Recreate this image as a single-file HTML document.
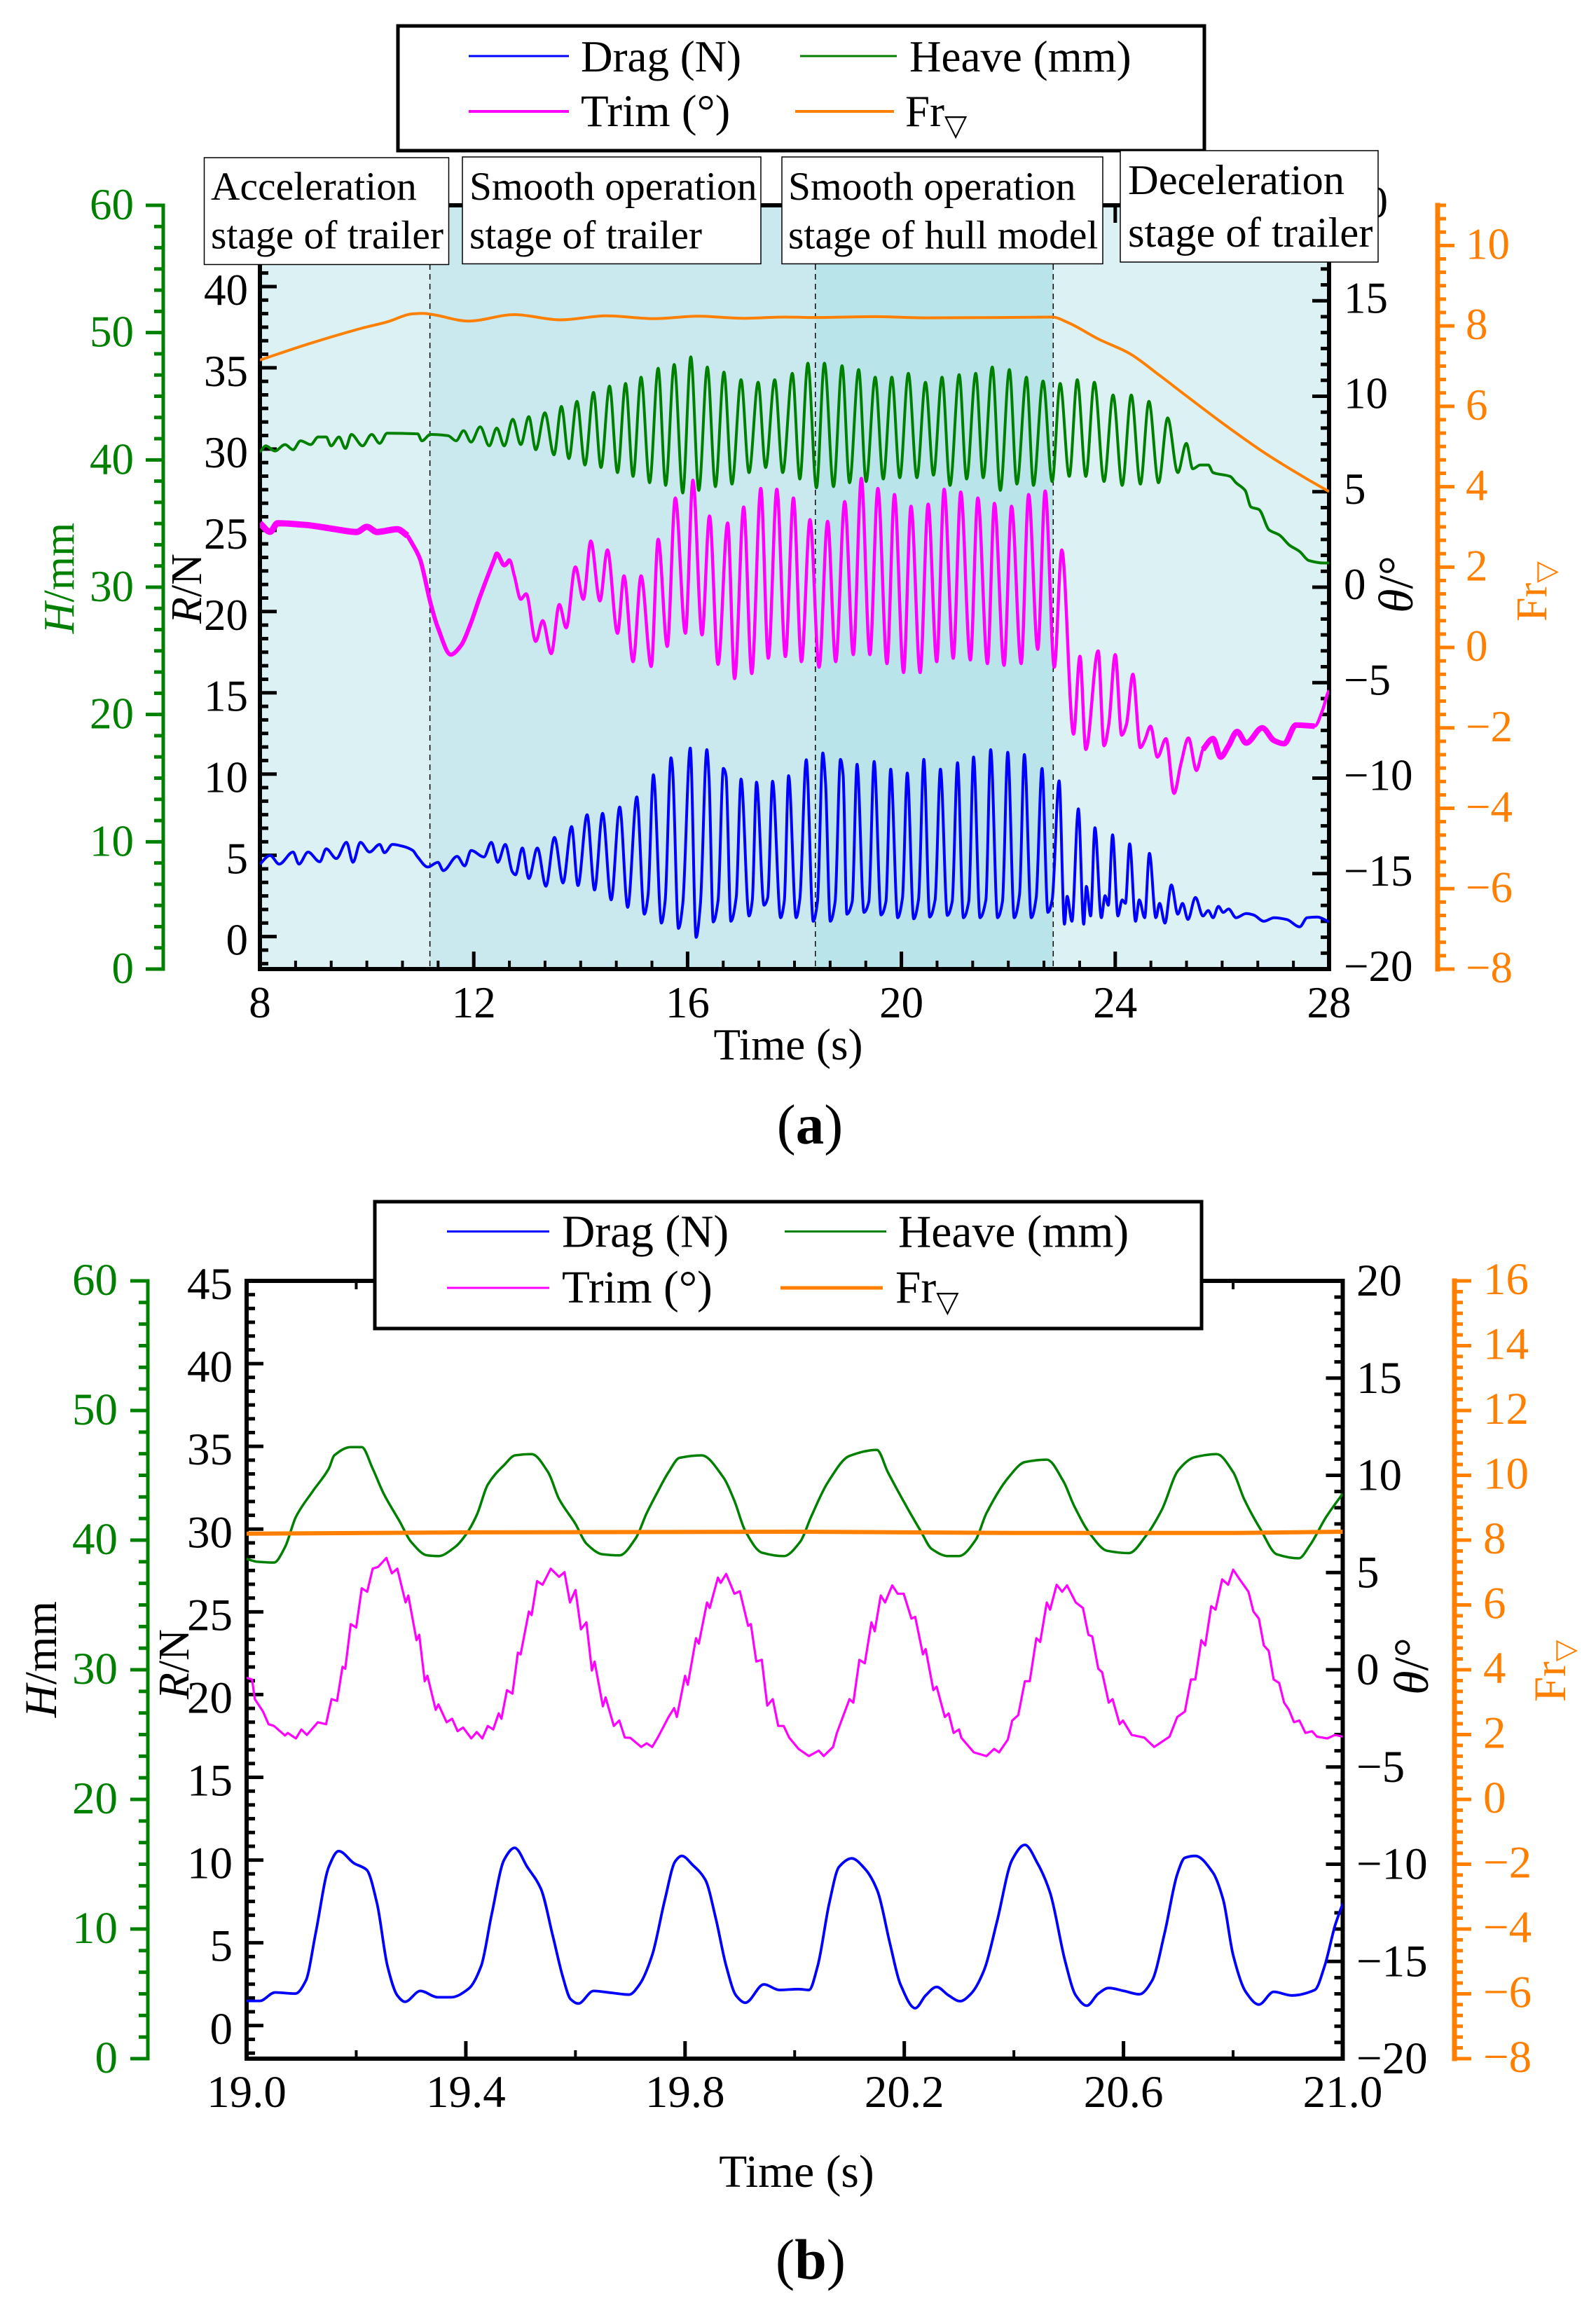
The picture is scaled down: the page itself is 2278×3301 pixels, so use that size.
<!DOCTYPE html>
<html lang="en">
<head>
<meta charset="utf-8">
<title>Drag, heave, trim and Froude number time histories</title>
<style>
html,body{margin:0;padding:0;background:#fff}
svg{display:block;font-family:"Liberation Serif","DejaVu Serif",serif}
</style>
</head>
<body>
<svg id="figure" xmlns="http://www.w3.org/2000/svg" width="2278" height="3301" viewBox="0 0 2278 3301">
  <rect x="0" y="0" width="2278" height="3301" fill="#fff"/>
  <g id="panel-a"></g>
  <g id="panel-b"></g>

  <g>
    <rect x="568" y="37" width="1151" height="178" fill="#fff" stroke="#000" stroke-width="5"/>
    <line x1="669" y1="80" x2="812" y2="80" stroke="#0000ff" stroke-width="3"/>
    <text x="829" y="102" font-size="63">Drag (N)</text>
    <line x1="1142" y1="80" x2="1280" y2="80" stroke="#008000" stroke-width="3"/>
    <text x="1298" y="102" font-size="63">Heave (mm)</text>
    <line x1="669" y1="159" x2="812" y2="159" stroke="#ff00ff" stroke-width="4"/>
    <text x="829" y="180" font-size="65">Trim (°)</text>
    <line x1="1135" y1="159" x2="1276" y2="159" stroke="#ff8000" stroke-width="4"/>
    <text x="1292" y="180" font-size="63">Fr<tspan font-family="'DejaVu Sans',sans-serif" font-size="42" dy="13">▽</tspan></text>
  </g>

  <g>
    <g>
      <rect x="291.5" y="225" width="349" height="152.5" fill="#fff" stroke="#000" stroke-width="1.5"/>
      <text x="301" y="285" font-size="57.5">Acceleration</text>
      <text x="301" y="354.5" font-size="57.5">stage of trailer</text>
    </g>
    <g>
      <rect x="660" y="224" width="426" height="152.5" fill="#fff" stroke="#000" stroke-width="1.5"/>
      <text x="670" y="285" font-size="57.5">Smooth operation</text>
      <text x="670" y="354.5" font-size="57.5">stage of trailer</text>
    </g>
    <g>
      <rect x="1116" y="224" width="458" height="152.5" fill="#fff" stroke="#000" stroke-width="1.5"/>
      <text x="1125" y="285" font-size="57.5">Smooth operation</text>
      <text x="1125" y="354.5" font-size="57.5">stage of hull model</text>
    </g>
    <g>
      <rect x="1599" y="215" width="368" height="159" fill="#fff" stroke="#000" stroke-width="1.5"/>
      <text x="1610" y="277" font-size="60.5">Deceleration</text>
      <text x="1610" y="352" font-size="60.5">stage of trailer</text>
    </g>
  </g>

  <g>
    <rect x="535" y="1715" width="1180" height="181" fill="#fff" stroke="#000" stroke-width="5"/>
    <line x1="638" y1="1757.5" x2="784" y2="1757.5" stroke="#0000ff" stroke-width="3"/>
    <text x="802" y="1779.5" font-size="65.5">Drag (N)</text>
    <line x1="1120" y1="1757.5" x2="1265" y2="1757.5" stroke="#008000" stroke-width="3"/>
    <text x="1282" y="1779.5" font-size="65.5">Heave (mm)</text>
    <line x1="638" y1="1838" x2="784" y2="1838" stroke="#ff00ff" stroke-width="3"/>
    <text x="802" y="1859" font-size="65.5">Trim (°)</text>
    <line x1="1114" y1="1838" x2="1260" y2="1838" stroke="#ff8000" stroke-width="5"/>
    <text x="1278" y="1859" font-size="65.5">Fr<tspan font-family="'DejaVu Sans',sans-serif" font-size="42" dy="13">▽</tspan></text>
  </g>

  <g>
    <text x="1125" y="1512" font-size="63" text-anchor="middle">Time (s)</text>
    <text transform="translate(105 825) rotate(-90)" font-size="62" text-anchor="middle" fill="#008000"><tspan font-style="italic">H</tspan>/mm</text>
    <text transform="translate(287 840) rotate(-90)" font-size="62" text-anchor="middle"><tspan font-style="italic">R</tspan>/N</text>
    <text transform="translate(2016 834) rotate(-90)" font-size="70" text-anchor="middle"><tspan font-style="italic">θ</tspan>/°</text>
    <text transform="translate(2207 887) rotate(-90)" font-size="62" fill="#ff8000">Fr<tspan font-family="'DejaVu Sans',sans-serif" font-size="40" dy="13">▽</tspan></text>
    <text x="1156" y="1632" font-size="81" text-anchor="middle">(<tspan font-weight="bold">a</tspan>)</text>

    <text x="1137" y="3121" font-size="65.5" text-anchor="middle">Time (s)</text>
    <text transform="translate(80 2368) rotate(-90)" font-size="65" text-anchor="middle"><tspan font-style="italic">H</tspan>/mm</text>
    <text transform="translate(269 2375) rotate(-90)" font-size="62" text-anchor="middle"><tspan font-style="italic">R</tspan>/N</text>
    <text transform="translate(2038 2378) rotate(-90)" font-size="70" text-anchor="middle"><tspan font-style="italic">θ</tspan>/°</text>
    <text transform="translate(2234 2429) rotate(-90)" font-size="65" fill="#ff8000">Fr<tspan font-family="'DejaVu Sans',sans-serif" font-size="40" dy="13">▽</tspan></text>
    <text x="1157" y="3252" font-size="82" text-anchor="middle">(<tspan font-weight="bold">b</tspan>)</text>
  </g>
</svg>

<script>
/* ---------- shared tick labels ---------- */
const dragTicks = [0, 5, 10, 15, 20, 25, 30, 35, 40, 45];
const heaveTicks = [0, 10, 20, 30, 40, 50, 60];
const trimTicks = [-20, -15, -10, -5, 0, 5, 10, 15, 20];
const frTicksA = [-8, -6, -4, -2, 0, 2, 4, 6, 8, 10];
const frTicksB = [-8, -6, -4, -2, 0, 2, 4, 6, 8, 10, 12, 14, 16];
const timeTicksA = [8, 12, 16, 20, 24, 28];
const timeTicksB = ['19.0', '19.4', '19.8', '20.2', '20.6', '21.0'];
const stageBoundaries = [11.18, 18.39, 22.84];

/* ---------- panel (a) series: time (s) and value ---------- */
const aHeaveT = [8,8.11,8.28,8.47,8.62,8.76,8.95,9.09,9.24,9.33,9.48,9.6,9.71,9.92,10.09,10.24,10.38,10.95,11.03,11.19,11.52,11.67,11.81,11.95,12.12,12.29,12.43,12.57,12.73,12.88,13.03,13.16,13.33,13.5,13.64,13.78,13.93,14.08,14.24,14.38,14.54,14.69,14.84,14.98,15.13,15.29,15.45,15.59,15.75,15.91,16.06,16.21,16.37,16.52,16.68,16.83,17,17.15,17.32,17.46,17.63,17.78,17.96,18.1,18.25,18.41,18.56,18.73,18.89,19.03,19.2,19.34,19.51,19.66,19.82,19.97,20.13,20.29,20.45,20.6,20.76,20.91,21.08,21.22,21.39,21.53,21.7,21.85,22.02,22.16,22.34,22.47,22.65,22.82,22.97,23.14,23.29,23.45,23.61,23.79,23.96,24.13,24.3,24.47,24.63,24.81,24.98,25.17,25.33,25.45,25.59,25.74,25.83,26.15,26.26,26.43,26.54,26.69,26.88,27.07,27.26,27.45,27.62,27.9,28];
const aHeaveV = [40.6,41.1,40.7,41.2,40.8,41.5,41.2,41.8,41.8,41.1,41.8,40.9,42,41.1,42,41.3,42.1,42.05,41.5,42,41.9,41.5,42.3,41.4,42.6,41.1,42.5,41.1,43.2,41.2,43.4,40.8,43.7,40.4,44.2,40.1,44.6,39.6,45.3,39.4,45.8,39,46,38.7,46.5,38.2,47.2,38,47.5,37.4,48.1,37.6,47.3,37.9,46.9,38.1,46.3,39,46.1,39.4,46.3,39,46.8,38.5,47.6,37.8,47.6,37.9,47.4,38.2,47.1,38.3,46.5,38.5,46.5,38.6,46.8,38.6,46.1,38.8,46.5,38,46.7,38.5,46.8,38.6,47.3,37.6,47.1,38.1,46.5,38,46.2,38.3,46,38.7,46.3,38.7,46.1,38.3,45.1,38,45.1,38.1,44.6,38.2,43.3,39,41.3,39.3,39.6,39.6,39,38.7,38.2,37.6,36.3,36.1,34.5,34.1,33.3,32.8,32.1,31.9,31.9];

const aDragT = [8,8.19,8.36,8.62,8.73,8.9,9.12,9.24,9.43,9.62,9.74,9.88,10.05,10.24,10.33,10.48,10.67,10.86,10.95,11.14,11.33,11.43,11.69,11.83,11.95,12.19,12.33,12.45,12.59,12.72,12.78,12.91,13.03,13.19,13.35,13.51,13.67,13.83,13.95,14.12,14.26,14.41,14.57,14.73,14.88,15.05,15.19,15.26,15.36,15.51,15.58,15.69,15.72,15.83,15.91,16.05,16.16,16.24,16.36,16.4,16.48,16.57,16.67,16.72,16.81,16.91,17,17.15,17.21,17.29,17.43,17.5,17.59,17.74,17.81,17.89,18.03,18.1,18.22,18.35,18.43,18.53,18.58,18.67,18.76,18.86,18.91,18.98,19.08,19.17,19.3,19.39,19.49,19.62,19.71,19.8,19.93,20.02,20.11,20.23,20.32,20.42,20.53,20.63,20.73,20.86,20.95,21.05,21.16,21.26,21.35,21.47,21.58,21.67,21.8,21.89,21.99,22.11,22.21,22.3,22.43,22.52,22.63,22.74,22.82,22.95,23.05,23.1,23.19,23.31,23.41,23.46,23.54,23.62,23.74,23.81,23.87,23.95,24.05,24.13,24.19,24.27,24.38,24.45,24.55,24.64,24.76,24.83,24.93,25.05,25.17,25.26,25.36,25.5,25.64,25.74,25.83,25.93,26.02,26.12,26.26,26.45,26.59,26.78,26.97,27.21,27.45,27.59,27.78,28];
const aDragV = [4.46,5,4.46,5.2,4.46,5.2,4.6,5.4,4.8,5.8,4.57,5.8,5.2,5.67,5.16,5.67,5.56,5.3,4.9,4.28,4.57,4.06,4.94,4.35,5.3,4.9,5.8,4.57,5.67,4,3.8,5.45,3.57,5.45,3.1,6.1,3.3,6.77,3.14,7.5,2.87,7.58,2.26,7.97,1.8,8.6,1.38,2.5,9.96,0.83,2.2,11,10.3,0.5,2,11.6,-0.05,2,11.5,9.9,0.9,2.2,10.35,9.9,0.94,2.4,9.7,1.27,2.2,9.5,1.93,2.4,9.56,1.16,2.2,9.9,1.16,2.3,10.88,0.94,2.15,11.3,9.5,0.94,2.15,10.9,9.95,1.38,2.15,10.6,1.49,2.15,10.77,1.33,2.15,10.3,1.16,2.37,10.06,1.09,2.26,10.9,1.2,2.26,10.3,1.3,2.15,10.7,1.16,2.15,11.05,1.16,2.26,11.5,1.16,2.15,11.34,1.16,2.59,11.2,1.16,2.37,10.35,1.49,2.26,9.58,0.76,2.48,0.94,7.86,0.76,3.09,1.27,6.7,1.16,2.52,1.93,6.26,1.27,2.26,2.04,5.71,0.94,2.26,1.16,5.12,1.16,2.04,0.83,3.18,1.38,2.04,1.05,2.41,1.27,1.6,1.16,1.86,1.49,1.7,1.16,1.42,1.33,0.94,1.16,1.05,0.6,1.16,1.2,0.9];

const aTrimT = [8,8.19,8.33,8.86,9.33,9.81,10,10.19,10.57,10.76,10.95,11,11.19,11.33,11.57,11.76,11.95,12.1,12.38,12.43,12.57,12.67,12.76,12.88,12.98,13.16,13.29,13.45,13.6,13.73,13.9,14.05,14.19,14.36,14.5,14.69,14.81,14.98,15.13,15.32,15.45,15.62,15.77,15.96,16.1,16.27,16.41,16.57,16.75,16.88,17.05,17.2,17.37,17.51,17.67,17.83,17.98,18.13,18.29,18.46,18.62,18.77,18.94,19.1,19.25,19.41,19.56,19.73,19.87,20.04,20.18,20.35,20.5,20.66,20.8,20.97,21.11,21.29,21.43,21.61,21.74,21.92,22.06,22.24,22.38,22.55,22.69,22.86,23,23.22,23.34,23.45,23.68,23.79,23.88,24,24.12,24.21,24.33,24.47,24.55,24.66,24.79,24.95,25.1,25.23,25.37,25.52,25.64,25.83,25.97,26.12,26.28,26.45,26.75,26.97,27.16,27.38,27.73,27.88,27.97,28];
const aTrimV = [3.35,2.9,3.35,3.26,3.07,2.89,3.16,2.89,3.04,2.7,1.76,1.43,-0.82,-2.13,-3.53,-3.06,-1.85,-0.63,1.43,1.76,1.15,1.43,0.59,-0.63,-0.35,-2.84,-1.75,-3.48,-0.91,-2.13,1.06,-0.63,2.42,-0.72,1.95,-2.41,0.59,-3.9,0.59,-4.15,2.51,-3.1,4.67,-2.41,5.6,-2.5,3.73,-4.04,3.36,-4.79,4.2,-4.52,5.17,-3.72,5.13,-3.63,4.67,-3.9,3.54,-4.19,3.45,-3.9,4.48,-3.53,5.7,-3.53,5.17,-4,4.85,-4.47,4.24,-4.47,4.35,-3.9,5.13,-3.72,4.98,-3.81,4.67,-4,4.39,-4.09,4.24,-4,4.85,-3.25,5.04,-4.19,1.95,-7.7,-3.62,-8.5,-3.34,-8.3,-7.18,-3.53,-7.75,-7.18,-4.56,-8.4,-8.03,-7.28,-8.9,-7.93,-10.8,-9.24,-7.9,-9.6,-8.5,-7.93,-8.9,-8.3,-7.56,-8.16,-7.37,-8.03,-8.2,-7.22,-7.28,-6.43,-5.59,-5.4];

const aFrT = [8,8.95,9.9,10.38,10.86,11.05,11.24,11.9,12.76,13.62,14.48,15.38,16.19,17.05,17.81,18.37,19.51,20.46,21.88,22.82,23.12,23.69,24.26,24.83,25.31,26.07,26.83,27.59,28];
const aFrV = [7.15,7.57,7.94,8.1,8.3,8.31,8.28,8.12,8.28,8.15,8.25,8.18,8.24,8.19,8.22,8.21,8.23,8.2,8.21,8.22,8.08,7.67,7.32,6.77,6.28,5.52,4.81,4.19,3.88];

/* ---------- panel (b) series: time (s) and value ---------- */
const bHeaveT = [19,19.02,19.05,19.07,19.09,19.12,19.15,19.16,19.19,19.21,19.23,19.25,19.28,19.3,19.33,19.35,19.38,19.4,19.42,19.44,19.47,19.49,19.52,19.55,19.57,19.6,19.62,19.65,19.68,19.71,19.73,19.75,19.77,19.79,19.83,19.87,19.89,19.91,19.94,19.98,20.01,20.03,20.06,20.1,20.15,20.17,20.2,20.23,20.25,20.28,20.3,20.33,20.35,20.39,20.42,20.46,20.49,20.51,20.54,20.57,20.61,20.64,20.67,20.7,20.73,20.77,20.8,20.82,20.85,20.88,20.92,20.94,20.97,21];
const bHeaveV = [38.55,38.33,38.27,39.46,41.8,43.73,45.52,46.54,47.18,47.18,45.52,43.59,41.39,39.87,38.82,38.77,39.46,40.42,41.94,44.28,45.8,46.54,46.63,45.25,43.18,41.25,39.73,38.9,38.82,40.15,42.08,43.73,45.25,46.35,46.54,44.83,43.04,40.7,39.04,38.77,39.87,41.8,44.42,46.5,46.96,45.25,42.9,40.7,39.32,38.77,38.77,40,42.08,44.83,46.02,46.21,44.56,42.63,40.42,39.18,39,40.28,42.35,45.39,46.4,46.63,45.25,43.18,40.83,38.9,38.6,39.6,41.8,43.59];

const bFrT = [19,19.4,20,20.4,20.8,21];
const bFrV = [8.2,8.24,8.26,8.22,8.22,8.26];

const bTrimT = [19,19.01,19.015,19.03,19.04,19.05,19.07,19.075,19.09,19.1,19.11,19.13,19.145,19.155,19.165,19.175,19.18,19.19,19.2,19.21,19.22,19.23,19.24,19.255,19.265,19.275,19.29,19.295,19.31,19.315,19.325,19.33,19.345,19.35,19.365,19.375,19.385,19.395,19.41,19.42,19.43,19.44,19.45,19.46,19.465,19.475,19.485,19.495,19.5,19.515,19.52,19.53,19.54,19.555,19.57,19.58,19.59,19.6,19.61,19.62,19.63,19.635,19.65,19.655,19.67,19.68,19.69,19.7,19.72,19.73,19.74,19.75,19.77,19.78,19.785,19.8,19.805,19.82,19.825,19.84,19.845,19.86,19.865,19.875,19.89,19.9,19.915,19.92,19.93,19.94,19.95,19.96,19.97,19.98,19.99,20.007,20.026,20.044,20.053,20.07,20.077,20.1,20.107,20.118,20.128,20.14,20.146,20.157,20.165,20.178,20.188,20.199,20.213,20.22,20.234,20.239,20.253,20.259,20.274,20.281,20.29,20.3,20.304,20.327,20.35,20.364,20.373,20.389,20.397,20.408,20.42,20.429,20.441,20.448,20.46,20.466,20.478,20.488,20.497,20.513,20.526,20.536,20.543,20.554,20.561,20.573,20.58,20.593,20.599,20.615,20.638,20.656,20.684,20.698,20.712,20.723,20.731,20.742,20.749,20.76,20.768,20.78,20.791,20.8,20.812,20.828,20.837,20.847,20.856,20.865,20.874,20.884,20.893,20.902,20.911,20.921,20.932,20.944,20.953,20.972,20.986,21];
const bTrimV = [-0.41,-0.5,-1.51,-2.15,-2.8,-2.89,-3.38,-3.25,-3.53,-3.07,-3.35,-2.7,-2.8,-1.51,-1.6,0.15,0.05,2.35,2.17,4.19,4.01,5.2,5.29,5.75,4.96,5.2,3.46,3.82,1.52,1.8,-0.59,-0.31,-2.06,-1.78,-2.7,-2.52,-3.16,-2.97,-3.53,-3.2,-3.53,-2.89,-3.07,-2.24,-2.52,-1.05,-1.23,0.88,0.79,3,2.81,4.56,4.37,5.2,4.78,5.02,3.46,4.1,2.08,2.44,-0.04,0.42,-1.88,-1.42,-2.89,-2.61,-3.49,-3.5,-3.97,-3.78,-3.97,-3.5,-2.43,-1.97,-2.43,-0.31,-0.77,1.62,1.34,3.46,3.18,4.74,4.47,4.93,3.91,4.04,2.26,2.35,0.42,0.51,-1.84,-1.51,-2.89,-2.89,-3.49,-4.07,-4.44,-4.16,-4.44,-3.97,-3.25,-1.51,-1.69,0.51,0.33,2.44,1.98,3.82,3.46,4.34,3.91,3.91,2.63,2.72,0.79,1.07,-1.05,-0.87,-2.43,-2.24,-3.25,-3.07,-3.5,-4.25,-4.44,-4.07,-4.25,-3.59,-2.61,-2.33,-0.59,-0.59,1.62,1.43,3.46,3.09,4.37,4.01,4.34,3.46,3.18,1.8,1.71,0.05,-0.13,-1.69,-1.51,-2.8,-2.61,-3.35,-3.49,-3.97,-3.44,-2.43,-2.15,-0.5,-0.5,1.52,1.25,3.27,3.09,4.65,4.37,5.15,4.65,4.01,3,2.63,1.25,0.97,-0.5,-0.68,-1.69,-2.06,-2.7,-2.61,-3.25,-3.16,-3.44,-3.53,-3.35,-3.44];

const bDragT = [19,19.024,19.052,19.089,19.108,19.126,19.15,19.168,19.196,19.219,19.238,19.257,19.275,19.289,19.317,19.349,19.373,19.405,19.428,19.447,19.47,19.489,19.512,19.537,19.559,19.577,19.591,19.605,19.633,19.665,19.698,19.717,19.74,19.763,19.782,19.794,19.814,19.837,19.856,19.875,19.893,19.91,19.944,19.972,20.007,20.026,20.042,20.063,20.081,20.104,20.128,20.151,20.174,20.193,20.22,20.239,20.259,20.281,20.302,20.322,20.346,20.369,20.397,20.42,20.443,20.466,20.494,20.513,20.533,20.554,20.573,20.601,20.629,20.652,20.675,20.698,20.712,20.731,20.763,20.782,20.8,20.823,20.847,20.874,20.907,20.949,20.967,20.986,21];
const bDragV = [1.49,1.49,2,1.93,2.71,5.59,9.59,10.54,9.81,9.41,7.37,3.6,1.82,1.44,2.09,1.71,1.71,2.22,3.6,6.7,10.03,10.74,9.59,8.26,5.37,2.93,1.6,1.33,2.09,1.98,1.87,2.49,4.26,7.59,9.92,10.25,9.7,8.81,6.48,3.6,1.82,1.38,2.49,2.15,2.2,2.15,3.6,7.37,9.59,10.1,9.48,8.14,4.93,2.49,1.05,1.82,2.33,1.82,1.47,1.93,3.38,6.26,10.03,10.92,9.81,8.03,3.82,1.82,1.2,1.93,2.27,2.09,1.89,2.71,5.59,9.14,10.14,10.25,9.25,7.59,4.26,2.04,1.27,2.04,1.82,2.15,3.6,6.04,7.37];

/* ---------- drawing helpers ---------- */
const NS = 'http://www.w3.org/2000/svg';
const BLACK = '#000';
const GREEN = '#008000';
const ORANGE = '#ff8000';

function drawLine(parent, name, x1, y1, x2, y2, color, width, dash) {
  const el = document.createElementNS(NS, 'line');
  
  
  el.setAttribute('x1', x1);
  el.setAttribute('y1', y1);
  el.setAttribute('x2', x2);
  el.setAttribute('y2', y2);
  el.setAttribute('stroke', color);
  el.setAttribute('stroke-width', width);
  if (dash) el.setAttribute('stroke-dasharray', dash);
  parent.appendChild(el);
  return el;
}

function drawLabel(parent, name, x, y, str, color, anchor, size) {
  const el = document.createElementNS(NS, 'text');
  
  
  el.setAttribute('x', x);
  el.setAttribute('y', y);
  el.setAttribute('fill', color);
  el.setAttribute('text-anchor', anchor);
  el.setAttribute('font-size', size);
  el.textContent = String(str).replace('-', '\u2212');
  parent.appendChild(el);
  return el;
}

function drawBand(parent, name, x, y, w, h, color) {
  const el = document.createElementNS(NS, 'rect');
  
  
  el.setAttribute('x', x);
  el.setAttribute('y', y);
  el.setAttribute('width', w);
  el.setAttribute('height', h);
  el.setAttribute('fill', color);
  parent.appendChild(el);
  return el;
}

/* monotone cubic path: no overshoot past the read values */
function smoothPath(pts) {
  const seg = function (a, b) { return (b[1] - a[1]) / Math.max(b[0] - a[0], 0.001); };
  const slope = function (i) {
    if (i === 0) return seg(pts[0], pts[1]);
    if (i === pts.length - 1) return seg(pts[i - 1], pts[i]);
    const s0 = seg(pts[i - 1], pts[i]);
    const s1 = seg(pts[i], pts[i + 1]);
    if (s0 * s1 <= 0) return 0;
    return 2 * s0 * s1 / (s0 + s1);
  };
  let d = 'M' + pts[0][0].toFixed(1) + ' ' + pts[0][1].toFixed(1);
  for (let i = 0; i < pts.length - 1; i++) {
    const p1 = pts[i];
    const p2 = pts[i + 1];
    const k = (p2[0] - p1[0]) / 3;
    d += 'C' + (p1[0] + k).toFixed(1) + ' ' + (p1[1] + slope(i) * k).toFixed(1) + ' ' +
         (p2[0] - k).toFixed(1) + ' ' + (p2[1] - slope(i + 1) * k).toFixed(1) + ' ' +
         p2[0].toFixed(1) + ' ' + p2[1].toFixed(1);
  }
  return d;
}

function linearPath(pts) {
  return 'M' + pts.map(function (p) { return p[0].toFixed(1) + ' ' + p[1].toFixed(1); }).join('L');
}

function drawSeries(parent, name, ts, vs, xFn, yFn, color, width, smooth, keep) {
  const pts = [];
  ts.forEach(function (t, i) {
    if (!keep || keep(t)) pts.push([xFn(t), yFn(vs[i])]);
  });
  const el = document.createElementNS(NS, 'path');
  
  
  el.setAttribute('d', smooth ? smoothPath(pts) : linearPath(pts));
  el.setAttribute('fill', 'none');
  el.setAttribute('stroke', color);
  el.setAttribute('stroke-width', width);
  el.setAttribute('stroke-linejoin', 'round');
  el.setAttribute('clip-path', parent.getAttribute('data-clip'));
  parent.appendChild(el);
  return el;
}

function linScale(d0, d1, r0, r1) {
  return function (v) { return r0 + (v - d0) / (d1 - d0) * (r1 - r0); };
}

/* a vertical value axis: line, major + minor ticks, tick labels */
function drawYAxis(g, o) {
  const y = linScale(o.min, o.max, o.bottom, o.top);
  drawLine(g, o.name + '-line', o.x, o.top - o.lw / 2, o.x, o.bottom + o.lw / 2, o.color, o.lw);
  const step = o.ticks[1] - o.ticks[0];
  const minor = step / o.sub;
  const n0 = Math.ceil((o.min - o.ticks[0]) / minor - 1e-6);
  const n1 = Math.floor((o.max - o.ticks[0]) / minor + 1e-6);
  for (let n = n0; n <= n1; n++) {
    if (((n % o.sub) + o.sub) % o.sub === 0) continue;
    const py = y(o.ticks[0] + n * minor);
    drawLine(g, o.name + '-minor-tick', o.x, py, o.x + o.dir * o.minorLen, py, o.color, 5);
  }
  o.ticks.forEach(function (v) {
    const py = y(v);
    drawLine(g, o.name + '-major-tick', o.x, py, o.x + o.dir * o.majorLen, py, o.color, 5);
    drawLabel(g, o.name + '-tick-label', o.labelX, py + o.labelDy, v, o.color, o.anchor, o.fontSize);
  });
  return y;
}

function drawPanel(o) {
  const g = document.getElementById(o.id);
  const x = linScale(o.x0, o.x1, o.left, o.right);
  const clipId = o.id + '-clip';
  const defs = document.createElementNS(NS, 'clipPath');
  defs.setAttribute('id', clipId);
  const cr = document.createElementNS(NS, 'rect');
  cr.setAttribute('x', o.left);
  cr.setAttribute('y', o.top);
  cr.setAttribute('width', o.right - o.left);
  cr.setAttribute('height', o.bottom - o.top);
  defs.appendChild(cr);
  g.appendChild(defs);
  g.setAttribute('data-clip', 'url(#' + clipId + ')');

  if (o.bands) {
    const edges = [o.x0].concat(stageBoundaries, [o.x1]);
    o.bands.forEach(function (c, i) {
      drawBand(g, 'stage-band', x(edges[i]), o.top, x(edges[i + 1]) - x(edges[i]), o.bottom - o.top, c);
    });
    stageBoundaries.forEach(function (t) {
      drawLine(g, 'stage-boundary-line', x(t), o.top, x(t), o.bottom, BLACK, 1.5, '8 6');
    });
  }

  const yR = drawYAxis(g, { name: 'drag-axis', x: o.left, top: o.top, bottom: o.bottom, min: -2, max: 45, ticks: dragTicks, sub: 6, dir: 1, majorLen: 24, minorLen: 12, color: BLACK, lw: 6, labelX: o.rLabelX, labelDy: o.rLabelDy, anchor: 'end', fontSize: o.fontSize });
  const yT = drawYAxis(g, { name: 'trim-axis', x: o.right, top: o.top, bottom: o.bottom, min: -20, max: 20, ticks: trimTicks, sub: 6, dir: -1, majorLen: 24, minorLen: 12, color: BLACK, lw: 6, labelX: o.tLabelX, labelDy: o.tLabelDy, anchor: 'start', fontSize: o.fontSize });
  const yH = drawYAxis(g, { name: 'heave-axis', x: o.hX, top: o.top, bottom: o.bottom, min: 0, max: 60, ticks: heaveTicks, sub: 6, dir: -1, majorLen: 25, minorLen: 13, color: GREEN, lw: 5, labelX: o.hLabelX, labelDy: 20, anchor: 'end', fontSize: o.fontSize });
  const yF = drawYAxis(g, { name: 'fr-axis', x: o.fX, top: o.top, bottom: o.bottom, min: -8, max: o.frMax, ticks: o.frTicks, sub: 6, dir: 1, majorLen: 24, minorLen: 12, color: ORANGE, lw: 7, labelX: o.fLabelX, labelDy: 19, anchor: 'start', fontSize: o.fontSize });

  drawLine(g, 'x-axis-line', o.left - 3, o.bottom, o.right + 3, o.bottom, BLACK, 6);
  drawLine(g, 'top-axis-line', o.left - 3, o.top, o.right + 3, o.top, BLACK, 6);

  const minorStep = (o.x1 - o.x0) / (o.timeLabels.length - 1) / o.xSub;
  const totalMinor = (o.timeLabels.length - 1) * o.xSub;
  for (let i = 0; i <= totalMinor; i++) {
    const t = o.x0 + i * minorStep;
    const major = i % o.xSub === 0;
    const len = major ? 25 : 12;
    drawLine(g, major ? 'x-major-tick' : 'x-minor-tick', x(t), o.bottom, x(t), o.bottom - len, BLACK, major ? 5 : 4);
    drawLine(g, major ? 'top-major-tick' : 'top-minor-tick', x(t), o.top, x(t), o.top + len, BLACK, major ? 5 : 4);
  }
  o.timeLabels.forEach(function (lab, i) {
    drawLabel(g, 'x-tick-label', x(o.x0 + i * minorStep * o.xSub), o.xLabelY, lab, BLACK, 'middle', o.fontSize);
  });

  return { x: x, yR: yR, yT: yT, yH: yH, yF: yF, g: g };
}

/* ---------- panel (a) ---------- */
const pa = drawPanel({ id: 'panel-a', left: 371, right: 1897, top: 293, bottom: 1383, x0: 8, x1: 28, hX: 233, fX: 2052, frMax: 11, frTicks: frTicksA, rLabelX: 354, rLabelDy: 26, tLabelX: 1918, tLabelDy: 17, hLabelX: 191, fLabelX: 2092, timeLabels: timeTicksA, xSub: 6, xLabelY: 1452, fontSize: 63, bands: ['#dcf1f4', '#c9e9ef', '#b8e4ea', '#dcf1f4'] });
drawSeries(pa.g, 'froude-number-line', aFrT, aFrV, pa.x, pa.yF, ORANGE, 4, true);
drawSeries(pa.g, 'heave-line', aHeaveT, aHeaveV, pa.x, pa.yH, GREEN, 4, true);
drawSeries(pa.g, 'trim-line', aTrimT, aTrimV, pa.x, pa.yT, '#ff00ff', 4.5, true);
drawSeries(pa.g, 'trim-line-noisy-start', aTrimT, aTrimV, pa.x, pa.yT, '#ff00ff', 9, true, function (t) { return t < 10.8; });
drawSeries(pa.g, 'trim-line-noisy-middle', aTrimT, aTrimV, pa.x, pa.yT, '#ff00ff', 6, true, function (t) { return t > 10.7 && t < 12.7; });
drawSeries(pa.g, 'trim-line-noisy-end', aTrimT, aTrimV, pa.x, pa.yT, '#ff00ff', 8, true, function (t) { return t > 25.6 && t < 27.75; });
drawSeries(pa.g, 'drag-line', aDragT, aDragV, pa.x, pa.yR, '#0000ff', 4, true);

/* ---------- panel (b) ---------- */
const pb = drawPanel({ id: 'panel-b', left: 352, right: 1916.5, top: 1828, bottom: 2938, x0: 19, x1: 21, hX: 211, fX: 2076, frMax: 16, frTicks: frTicksB, rLabelX: 332, rLabelDy: 26, tLabelX: 1936, tLabelDy: 21, hLabelX: 168, fLabelX: 2117, timeLabels: timeTicksB, xSub: 2, xLabelY: 3007, fontSize: 65 });
drawSeries(pb.g, 'heave-line', bHeaveT, bHeaveV, pb.x, pb.yH, GREEN, 3.5, true);
drawSeries(pb.g, 'trim-line', bTrimT, bTrimV, pb.x, pb.yT, '#ff00ff', 3.2, false);
drawSeries(pb.g, 'drag-line', bDragT, bDragV, pb.x, pb.yR, '#0000ff', 3.8, true);
drawSeries(pb.g, 'froude-number-line', bFrT, bFrV, pb.x, pb.yF, ORANGE, 6, false);
</script>
</body>
</html>
